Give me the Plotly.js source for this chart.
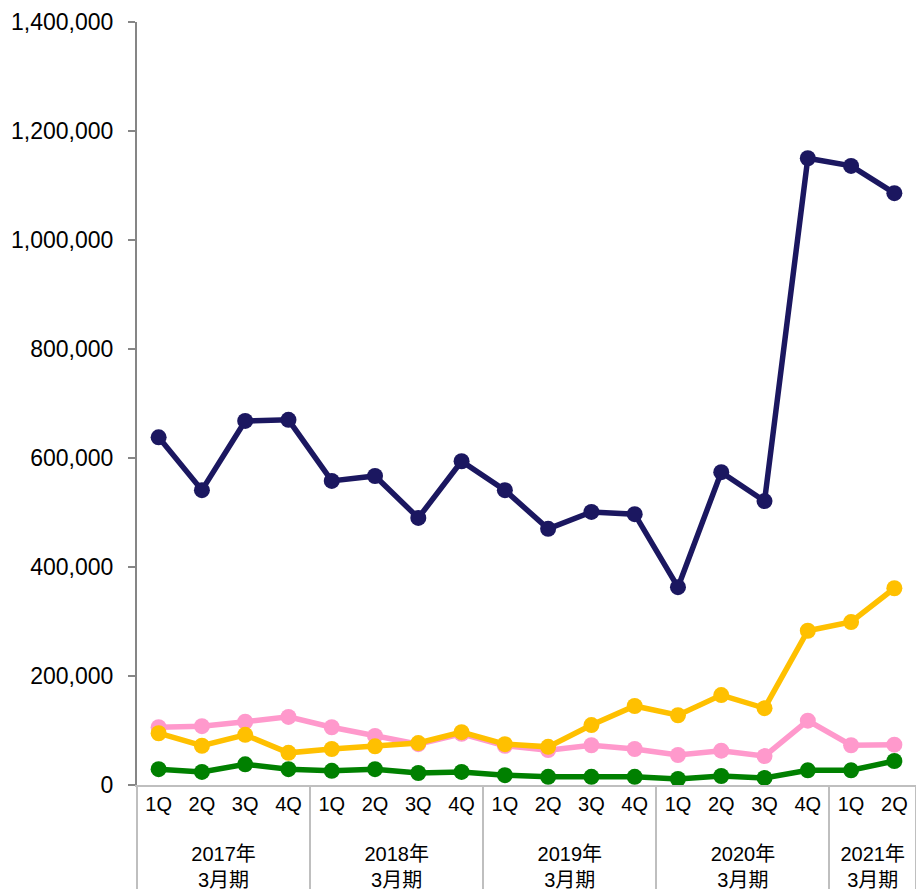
<!DOCTYPE html>
<html><head><meta charset="utf-8">
<script src="https://cdn.plot.ly/plotly-3.0.1.min.js"></script>
<style>html,body{margin:0;padding:0;background:#fff}#chart{width:916px;height:889px}</style>
</head><body><div id="chart"></div>
<script>
const years = ["<br>2017年<br>3月期","<br>2017年<br>3月期","<br>2017年<br>3月期","<br>2017年<br>3月期",
  "<br>2018年<br>3月期","<br>2018年<br>3月期","<br>2018年<br>3月期","<br>2018年<br>3月期",
  "<br>2019年<br>3月期","<br>2019年<br>3月期","<br>2019年<br>3月期","<br>2019年<br>3月期",
  "<br>2020年<br>3月期","<br>2020年<br>3月期","<br>2020年<br>3月期","<br>2020年<br>3月期",
  "<br>2021年<br>3月期","<br>2021年<br>3月期"];
const quarters = ["1Q","2Q","3Q","4Q","1Q","2Q","3Q","4Q","1Q","2Q","3Q","4Q","1Q","2Q","3Q","4Q","1Q","2Q"];
const navySeries = [638000,541000,668000,670000,558000,567000,490000,594000,541000,470000,501000,497000,363000,574000,521000,1150000,1136000,1086000];
const yellowSeries = [95000,72000,92000,59000,66000,71000,77000,97000,75000,70000,110000,145000,128000,165000,141000,283000,299000,361000];
const pinkSeries = [106000,108000,116000,125000,106000,90000,75000,94000,72000,64000,73000,66000,55000,63000,53000,118000,73000,74000];
const greenSeries = [29000,24000,38000,29000,26000,29000,22000,24000,18000,15000,15000,15000,11000,16500,13000,27000,27000,44000];
const yTicks = [0,200000,400000,600000,800000,1000000,1200000,1400000];

function tr(y, color){
  return {x:[years,quarters], y:y, type:"scatter", mode:"lines+markers",
    line:{color:color,width:5.5}, marker:{color:color,size:16}, cliponaxis:false, hoverinfo:"y"};
}
const data = [tr(greenSeries,"#008000"), tr(pinkSeries,"#FF99CC"), tr(yellowSeries,"#FFC000"), tr(navySeries,"#1B1760")];
const layout = {
  width:916, height:889, showlegend:false,
  margin:{l:137,r:0,t:22,b:104},
  paper_bgcolor:"#fff", plot_bgcolor:"#fff",
  font:{family:"Liberation Sans, Arial, Noto Sans CJK JP, sans-serif", size:20, color:"#000"},
  xaxis:{type:"multicategory", range:[-0.5,17.5], showline:true, linecolor:"#BFBFBF", linewidth:2,
    showgrid:false, zeroline:false, ticks:"", showdividers:true, dividercolor:"#BFBFBF", dividerwidth:2,
    tickfont:{size:20}},
  yaxis:{range:[0,1400000], tickvals:yTicks, tickformat:",d", showline:true, linecolor:"#868686", linewidth:2,
    ticks:"outside", ticklen:7, tickcolor:"#868686", tickwidth:2, showgrid:false, zeroline:false,
    ticklabelstandoff:10, tickfont:{size:23}}
};
Plotly.newPlot("chart", data, layout, {displayModeBar:false, staticPlot:true});
</script></body></html>
